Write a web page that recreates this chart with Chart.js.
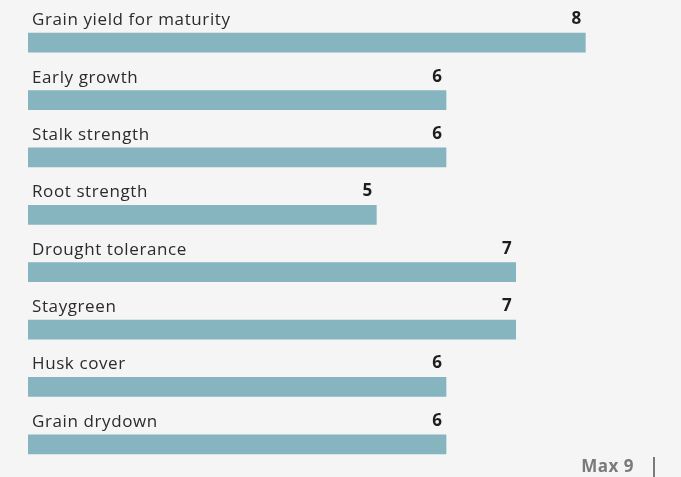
<!DOCTYPE html>
<html>
<head>
<meta charset="utf-8">
<script src="https://cdn.jsdelivr.net/npm/chart.js@4"></script>
<style>
  html, body { margin: 0; padding: 0; background: #f5f5f5; }
  #wrap { width: 681px; height: 477px; position: relative; }
</style>
</head>
<body>
<div id="wrap"><canvas id="traitChart"></canvas></div>
<script>
const traits = ['Grain yield for maturity', 'Early growth', 'Stalk strength', 'Root strength',
    'Drought tolerance', 'Staygreen', 'Husk cover', 'Grain drydown'];
const scores = [8, 6, 6, 5, 7, 7, 6, 6];
const maxScore = 9;

const barColor = '#86b4bf';
const labelFont = '17px "Open Sans", sans-serif';
const valueFont = 'bold 17px "Open Sans", sans-serif';

// category names above each bar, score at the bar's end, max marker in the corner
const traitLabels = {
    id: 'traitLabels',
    afterDatasetsDraw(chart) {
        const { ctx } = chart;
        const x = chart.scales.x;
        const meta = chart.getDatasetMeta(0);
        ctx.save();
        ctx.textBaseline = 'alphabetic';
        meta.data.forEach((bar, i) => {
            const top = bar.y - bar.height / 2;
            ctx.fillStyle = '#2b2b2b';
            ctx.font = labelFont;
            ctx.letterSpacing = '0.6px';
            ctx.textAlign = 'left';
            ctx.fillText(traits[i], x.left + 4, top - 8);
            ctx.fillStyle = '#1e1e1e';
            ctx.font = valueFont;
            ctx.letterSpacing = '0px';
            ctx.textAlign = 'right';
            ctx.fillText(scores[i], bar.x - 4, top - 9);
        });
        const maxX = x.getPixelForValue(maxScore);
        ctx.fillStyle = '#7a7a7a';
        ctx.font = valueFont;
        ctx.letterSpacing = '0.5px';
        ctx.textAlign = 'right';
        ctx.fillText('Max ' + maxScore, maxX - 21, 472);
        ctx.fillRect(maxX - 2, 457, 2, 20);
        ctx.restore();
    }
};

new Chart(document.getElementById('traitChart'), {
    type: 'bar',
    data: {
        labels: traits,
        datasets: [{
            data: scores,
            backgroundColor: barColor,
            barThickness: 19,
            borderWidth: 0
        }]
    },
    options: {
        indexAxis: 'y',
        responsive: true,
        maintainAspectRatio: false,
        animation: false,
        layout: { padding: { left: 28, right: 26, top: 14, bottom: 4 } },
        plugins: {
            legend: { display: false },
            tooltip: { enabled: false }
        },
        scales: {
            x: { display: false, min: 0, max: maxScore },
            y: { display: false }
        }
    },
    plugins: [traitLabels]
});
</script>
</body>
</html>
